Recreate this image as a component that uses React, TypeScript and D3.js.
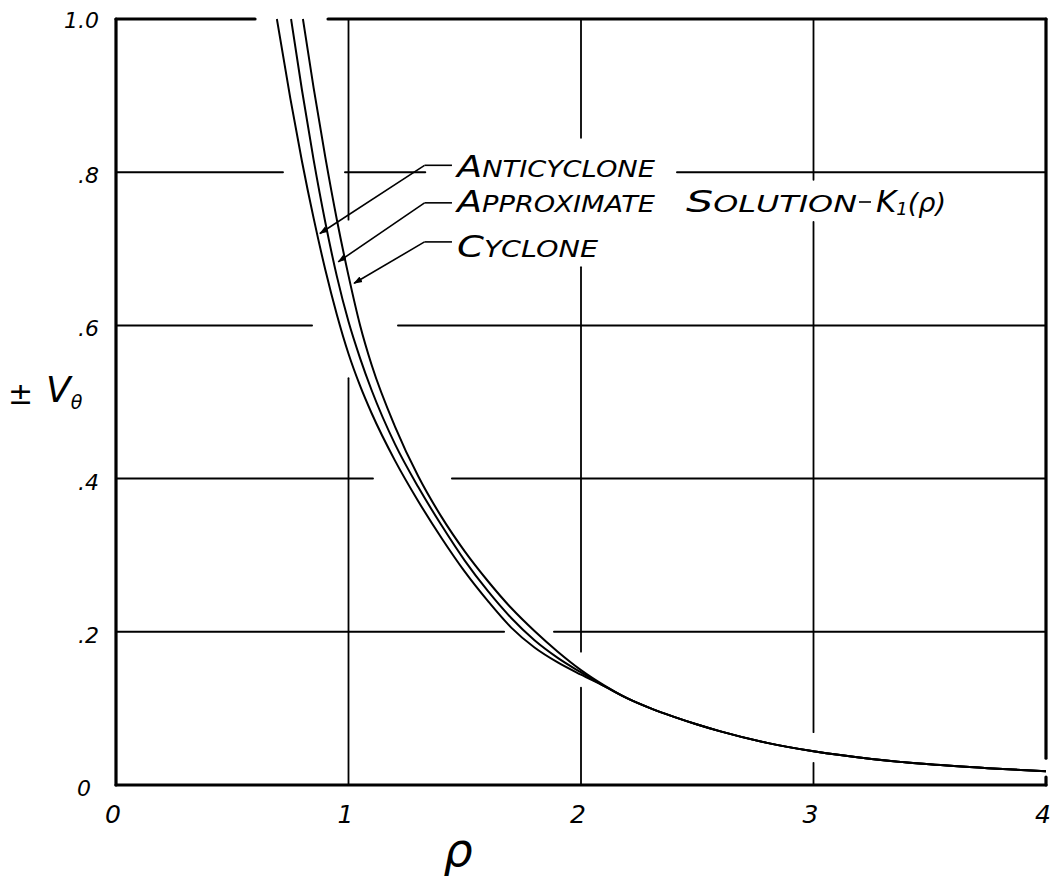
import React from "react";
import * as d3 from "d3";

const W = 1061;
const H = 880;

// Axis ticks
const rhoTicks = [0, 1, 2, 3, 4];
const rhoTickLabels = ["0", "1", "2", "3", "4"];
const vTicks = [0, 0.2, 0.4, 0.6, 0.8, 1.0];
const vTickLabels = ["0", ".2", ".4", ".6", ".8", "1.0"];

// Curves (rho, V)
const anticycloneRho = [0.692, 0.75, 0.8, 0.85, 0.9, 0.95, 1.0, 1.05, 1.1, 1.2, 1.3, 1.4, 1.5, 1.6, 1.7, 1.8, 1.9, 2.0, 2.1];
const anticycloneV = [1.0, 0.896, 0.814, 0.74, 0.673, 0.614, 0.563, 0.521, 0.485, 0.4235, 0.3705, 0.3225, 0.2785, 0.24, 0.2055, 0.1795, 0.16, 0.144, 0.129];
const approximateRho = [0.753, 0.8, 0.85, 0.9, 0.95, 1.0, 1.05, 1.1, 1.2, 1.3, 1.4, 1.5, 1.6, 1.7, 1.8, 1.9, 2.0, 2.1];
const approximateV = [1.0, 0.907, 0.816, 0.735, 0.664, 0.605, 0.557, 0.515, 0.445, 0.389, 0.339, 0.293, 0.253, 0.218, 0.189, 0.166, 0.147, 0.129];
const cycloneRho = [0.804, 0.85, 0.9, 0.95, 1.0, 1.05, 1.1, 1.2, 1.3, 1.4, 1.5, 1.6, 1.7, 1.8, 1.9, 2.0, 2.1];
const cycloneV = [1.0, 0.91, 0.82, 0.738, 0.665, 0.6, 0.548, 0.468, 0.403, 0.35, 0.305, 0.266, 0.231, 0.201, 0.174, 0.15, 0.13];
// common tail where the three curves have merged
const tailRho = [2.2, 2.3, 2.4, 2.5, 2.6, 2.8, 3.0, 3.25, 3.5, 3.75, 4.0];
const tailV = [0.113, 0.1, 0.089, 0.079, 0.07, 0.055, 0.044, 0.034, 0.027, 0.022, 0.018];

// Annotation leaders: tip on the curve, elbow height (rho, V)
const labelNames = ["ANTICYCLONE", "APPROXIMATE", "CYCLONE"];
const leaderTipRho = [0.877, 0.956, 1.024];
const leaderTipV = [0.72, 0.683, 0.655];
const leaderElbowV = [0.809, 0.76, 0.709];

// Grid line pieces (hand-drawn grid interrupted around curves and lettering)
const hGrid: { v: number; segs: [number, number][]; w: number }[] = [
  { v: 1.0, segs: [[0, 0.598], [0.912, 4]], w: 3.2 },
  { v: 0.8, segs: [[0, 0.718], [0.985, 1.33], [2.413, 4]], w: 2 },
  { v: 0.6, segs: [[0, 0.843], [1.213, 4]], w: 2 },
  { v: 0.4, segs: [[0, 1.105], [1.445, 4]], w: 2 },
  { v: 0.2, segs: [[0, 1.669], [1.884, 4]], w: 2 },
  { v: 0.0, segs: [[0, 4]], w: 3.2 },
];
const vGrid: { r: number; segs: [number, number][]; w: number }[] = [
  { r: 0, segs: [[0, 1]], w: 3.2 },
  { r: 1, segs: [[0.738, 1], [0, 0.531]], w: 1.8 },
  { r: 2, segs: [[0.845, 1], [0.174, 0.676], [0, 0.127]], w: 1.8 },
  { r: 3, segs: [[0.79, 1], [0.069, 0.735], [0, 0.029]], w: 1.8 },
  { r: 4, segs: [[0.035, 1], [0, 0.0104]], w: 3.2 },
];

const FONT = "'DejaVu Sans', 'Liberation Sans', sans-serif";

export default function App() {
  const x = d3.scaleLinear().domain([0, 4]).range([116, 1046]);
  const y = d3.scaleLinear().domain([0, 1]).range([785, 19]);

  const line = d3
    .line<[number, number]>()
    .x((d) => x(d[0]))
    .y((d) => y(d[1]))
    .curve(d3.curveMonotoneX);

  const build = (rs: number[], vs: number[]): [number, number][] => [
    ...rs.map((r, i) => [r, vs[i]] as [number, number]),
    ...tailRho.map((r, i) => [r, tailV[i]] as [number, number]),
  ];
  const curves = [
    build(anticycloneRho, anticycloneV),
    build(approximateRho, approximateV),
    build(cycloneRho, cycloneV),
  ];

  const elbowX = x(1.327);
  const hEndX = x(1.445);
  const textX = 457;

  return (
    <svg
      width={W}
      height={H}
      viewBox={`0 0 ${W} ${H}`}
      style={{ position: "absolute", left: 0, top: 0, background: "#fff" }}
    >
      <defs>
        <marker
          id="arr"
          viewBox="0 0 10 10"
          refX="9"
          refY="5"
          markerWidth="9"
          markerHeight="9"
          markerUnits="userSpaceOnUse"
          orient="auto"
        >
          <path d="M0,1.5 L10,5 L0,8.5 Z" fill="#000" />
        </marker>
      </defs>
      <rect x={0} y={0} width={W} height={H} fill="#fff" />

      {/* grid */}
      <g stroke="#000" strokeLinecap="round" fill="none">
        {hGrid.map((g, i) =>
          g.segs.map((s, j) => (
            <line
              key={`h${i}-${j}`}
              x1={x(s[0])}
              x2={x(s[1])}
              y1={y(g.v)}
              y2={y(g.v)}
              strokeWidth={g.w}
            />
          ))
        )}
        {vGrid.map((g, i) =>
          g.segs.map((s, j) => (
            <line
              key={`v${i}-${j}`}
              x1={x(g.r)}
              x2={x(g.r)}
              y1={y(s[0])}
              y2={y(s[1])}
              strokeWidth={g.w}
            />
          ))
        )}
      </g>

      {/* curves */}
      <g fill="none" stroke="#000" strokeWidth={2} strokeLinejoin="round">
        {curves.map((c, i) => (
          <path key={i} d={line(c) || ""} />
        ))}
      </g>

      {/* leaders */}
      <g fill="none" stroke="#000" strokeWidth={1.6}>
        {labelNames.map((n, i) => (
          <g key={n}>
            <line
              x1={hEndX}
              y1={y(leaderElbowV[i])}
              x2={elbowX}
              y2={y(leaderElbowV[i])}
            />
            <line
              x1={elbowX}
              y1={y(leaderElbowV[i])}
              x2={x(leaderTipRho[i])}
              y2={y(leaderTipV[i])}
              markerEnd="url(#arr)"
            />
          </g>
        ))}
      </g>

      {/* labels */}
      <g fontFamily={FONT} fontStyle="italic" fill="#000">
        <text x={textX} y={177} textLength={198} lengthAdjust="spacingAndGlyphs">
          <tspan fontSize={31}>A</tspan>
          <tspan fontSize={23}>NTICYCLONE</tspan>
        </text>
        <text x={textX} y={212} textLength={198} lengthAdjust="spacingAndGlyphs">
          <tspan fontSize={31}>A</tspan>
          <tspan fontSize={23}>PPROXIMATE</tspan>
        </text>
        <text x={686} y={212} textLength={171} lengthAdjust="spacingAndGlyphs">
          <tspan fontSize={31}>S</tspan>
          <tspan fontSize={23}>OLUTION</tspan>
        </text>
        <line x1={859} x2={871} y1={202} y2={202} stroke="#000" strokeWidth={1.6} />
        <text x={876} y={212} fontSize={31}>
          K
          <tspan fontSize={18} dy={3}>1</tspan>
          <tspan fontSize={27} dy={-3}>(ρ)</tspan>
        </text>
        <text x={textX} y={257} textLength={141} lengthAdjust="spacingAndGlyphs">
          <tspan fontSize={31}>C</tspan>
          <tspan fontSize={23}>YCLONE</tspan>
        </text>
      </g>

      {/* tick labels */}
      <g fontFamily={FONT} fontStyle="italic" fill="#000" fontSize={22}>
        {vTicks.map((v, i) => (
          <text
            key={`yt${i}`}
            x={v === 0 ? 91 : 99}
            y={y(v) + (v === 1 ? 9 : 11)}
            textAnchor="end"
          >
            {vTickLabels[i]}
          </text>
        ))}
      </g>
      <g fontFamily={FONT} fontStyle="italic" fill="#000" fontSize={25}>
        {rhoTicks.map((r, i) => (
          <text key={`xt${i}`} x={x(r) - 3} y={823} textAnchor="middle">
            {rhoTickLabels[i]}
          </text>
        ))}
      </g>

      {/* axis titles */}
      <g fontFamily={FONT} fill="#000">
        <text x={8} y={404} fontSize={30}>
          ±
        </text>
        <text x={46} y={402} fontSize={36} fontStyle="italic">
          V
          <tspan fontSize={19} dy={7}>
            θ
          </tspan>
        </text>
        <text x={458} y={866} fontSize={46} fontStyle="italic" textAnchor="middle">
          ρ
        </text>
      </g>
    </svg>
  );
}
